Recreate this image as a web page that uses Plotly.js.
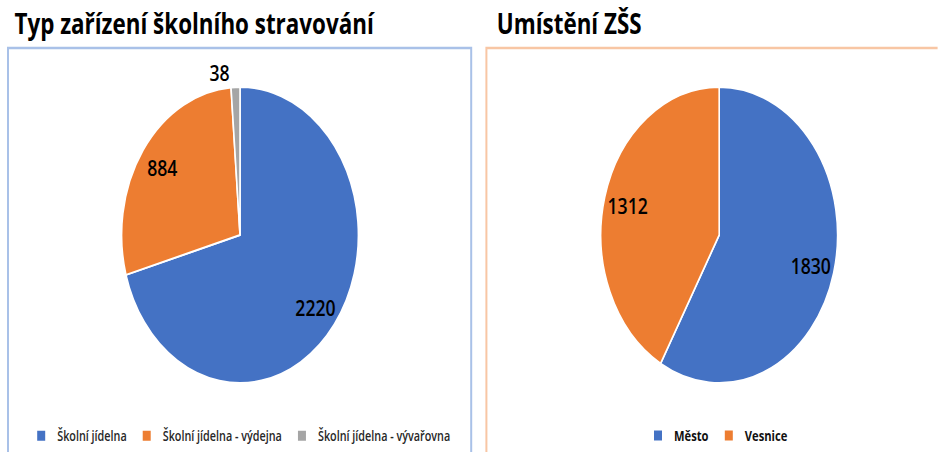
<!DOCTYPE html>
<html>
<head>
<meta charset="utf-8">
<script src="https://cdn.plot.ly/plotly-3.0.1.min.js"></script>
<style>
  html, body { margin: 0; padding: 0; background: #fff; overflow: hidden; }
  #wrap { width: 938px; height: 452px; overflow: hidden; }
  #chart { width: 1172px; height: 452px; transform: scaleX(0.8); transform-origin: 0 0; }
</style>
</head>
<body>
<div id="wrap"><div id="chart"></div></div>
<script>
// Data
const typLabels = ['Školní jídelna', 'Školní jídelna - výdejna', 'Školní jídelna - vývařovna'];
const typValues = [2220, 884, 38];
const mistoLabels = ['Město', 'Vesnice'];
const mistoValues = [1830, 1312];
const titles = ['Typ zařízení školního stravování', 'Umístění ZŠS'];

const colors3 = ['#4472C4', '#ED7D31', '#A5A5A5'];
const colors2 = ['#4472C4', '#ED7D31'];
const W = 1172, H = 452;
const font = 'Open Sans, sans-serif';
const labelFont = { family: font, size: 22, color: '#000000', weight: 600 };

const domL = { x: [152 / W, 448 / W], y: [1 - 383 / H, 1 - 87 / H] };
const domR = { x: [751 / W, 1047 / W], y: [1 - 383 / H, 1 - 87 / H] };

function basePie(labels, values, colors, dom, legend) {
  return {
    type: 'pie', labels: labels, values: values, sort: false,
    direction: 'clockwise', rotation: 0,
    marker: { colors: colors, line: { color: '#ffffff', width: 2 } },
    textinfo: 'none', domain: dom, legend: legend, hoverinfo: 'label+value'
  };
}
// transparent overlay rings carry the value labels further out in each slice
function labelRing(labels, values, dom, positions) {
  return {
    type: 'pie', labels: labels, values: values, sort: false,
    direction: 'clockwise', rotation: 0, hole: 0.6, showlegend: false,
    marker: { colors: labels.map(() => 'rgba(0,0,0,0)'), line: { width: 0 } },
    textinfo: 'value', textposition: positions, insidetextorientation: 'horizontal',
    textfont: labelFont, domain: dom, hoverinfo: 'skip'
  };
}

const traces = [
  basePie(typLabels, typValues, colors3, domL, 'legend'),
  basePie(mistoLabels, mistoValues, colors2, domR, 'legend2'),
  labelRing(typLabels, typValues, domL, ['inside', 'inside', 'outside']),
  labelRing(mistoLabels, mistoValues, domR, 'inside')
];

const layout = {
  width: W, height: H, autosize: false,
  margin: { l: 0, r: 0, t: 0, b: 0 },
  paper_bgcolor: '#ffffff',
  showlegend: true,
  legend: {
    orientation: 'h', x: 300 / W, xanchor: 'center', y: 1 - 436 / H, yanchor: 'middle',
    font: { family: font, size: 13.5, color: '#262626', weight: 600 }, itemwidth: 30, bgcolor: 'rgba(0,0,0,0)'
  },
  legend2: {
    orientation: 'h', x: 896 / W, xanchor: 'center', y: 1 - 436 / H, yanchor: 'middle',
    font: { family: font, size: 14, color: '#111111', weight: 'bold' }, itemwidth: 30, bgcolor: 'rgba(0,0,0,0)'
  },
  annotations: [
    { text: titles[0], xref: 'paper', yref: 'paper', x: 16 / W, xanchor: 'left', y: 1 - 23 / H, yanchor: 'middle',
      showarrow: false, font: { family: font, size: 28, color: '#000000', weight: 'bold' } },
    { text: titles[1], xref: 'paper', yref: 'paper', x: 619 / W, xanchor: 'left', y: 1 - 23 / H, yanchor: 'middle',
      showarrow: false, font: { family: font, size: 28, color: '#000000', weight: 'bold' } }
  ],
  shapes: [
    { type: 'rect', xref: 'paper', yref: 'paper', x0: 10 / W, x1: 589 / W, y0: -0.05, y1: 1 - 48 / H,
      line: { color: '#A9C1E8', width: 2.5 }, layer: 'below' },
    { type: 'rect', xref: 'paper', yref: 'paper', x0: 608 / W, x1: 1.05, y0: -0.05, y1: 1 - 48 / H,
      line: { color: '#F8C6A4', width: 2.5 }, layer: 'below' }
  ]
};

Plotly.newPlot('chart', traces, layout, { displayModeBar: false, staticPlot: true });
</script>
</body>
</html>
